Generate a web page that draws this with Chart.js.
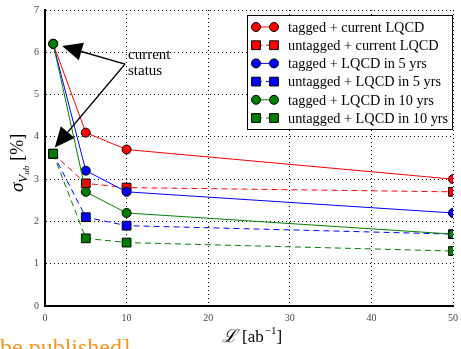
<!DOCTYPE html>
<html>
<head>
<meta charset="utf-8">
<script src="https://cdn.jsdelivr.net/npm/chart.js@4/dist/chart.umd.min.js"></script>
<style>
    html, body { margin: 0; padding: 0; background: #fff; }
    #wrap { width: 461px; height: 349px; }
</style>
</head>
<body>
<div id="wrap"><canvas id="chart" width="461" height="349"></canvas></div>
<script>
// luminosity in ab^-1
const lumi = [1, 5, 10, 50];

// sigma(V_ub) in %
const taggedCurrent = [6.2, 4.1, 3.7, 3.0];
const untaggedCurrent = [3.6, 2.9, 2.8, 2.7];
const tagged5 = [6.2, 3.2, 2.7, 2.2];
const untagged5 = [3.6, 2.1, 1.9, 1.7];
const tagged10 = [6.2, 2.7, 2.2, 1.7];
const untagged10 = [3.6, 1.6, 1.5, 1.3];

const seriesLabels = [
    "tagged + current LQCD",
    "untagged + current LQCD",
    "tagged + LQCD in 5 yrs",
    "untagged + LQCD in 5 yrs",
    "tagged + LQCD in 10 yrs",
    "untagged + LQCD in 10 yrs"
];

const xTicks = [0, 10, 20, 30, 40, 50];
const yTicks = [0, 1, 2, 3, 4, 5, 6, 7];

const SERIF = "'DejaVu Serif', 'Liberation Serif', serif";
const TIMES = "'Liberation Serif', 'DejaVu Serif', serif";

function series(label, values, color, tagged, order) {
    return {
        label: label,
        data: lumi.map((x, i) => ({ x: x, y: values[i] })),
        borderColor: color,
        backgroundColor: color,
        borderWidth: 1,
        borderDash: tagged ? [] : [6, 4],
        pointStyle: tagged ? "circle" : "rect",
        pointRadius: tagged ? 4.5 : 6.2,
        pointBorderColor: "#000",
        pointBorderWidth: 1,
        pointBackgroundColor: color,
        tension: 0,
        order: order
    };
}

const datasets = [
    series(seriesLabels[0], taggedCurrent, "#ff0000", true, 6),
    series(seriesLabels[1], untaggedCurrent, "#ff0000", false, 5),
    series(seriesLabels[2], tagged5, "#0000ff", true, 4),
    series(seriesLabels[3], untagged5, "#0000ff", false, 3),
    series(seriesLabels[4], tagged10, "#007f00", true, 2),
    series(seriesLabels[5], untagged10, "#007f00", false, 1)
];

// legend, arrows and axis titles
const decorations = {
    id: "decorations",
    afterDraw(chart) {
        const ctx = chart.ctx;
        const xs = chart.scales.x;
        const ys = chart.scales.y;

        // arrows pointing at the current status points
        const tail = { x: xs.getPixelForValue(9.8), y: ys.getPixelForValue(5.72) };
        const tips = [
            { x: xs.getPixelForValue(2.1), y: ys.getPixelForValue(6.15) },
            { x: xs.getPixelForValue(1.2), y: ys.getPixelForValue(3.75) }
        ];
        ctx.save();
        tips.forEach(tip => {
            const ang = Math.atan2(tip.y - tail.y, tip.x - tail.x);
            const headLen = 20;
            const headW = 9;
            const bx = tip.x - headLen * Math.cos(ang);
            const by = tip.y - headLen * Math.sin(ang);
            ctx.strokeStyle = "#000";
            ctx.lineWidth = 1.5;
            ctx.beginPath();
            ctx.moveTo(tail.x, tail.y);
            ctx.lineTo(bx, by);
            ctx.stroke();
            ctx.fillStyle = "#000";
            ctx.beginPath();
            ctx.moveTo(tip.x, tip.y);
            ctx.lineTo(bx + headW * Math.sin(ang), by - headW * Math.cos(ang));
            ctx.lineTo(bx - headW * Math.sin(ang), by + headW * Math.cos(ang));
            ctx.closePath();
            ctx.fill();
        });

        ctx.fillStyle = "#000";
        ctx.font = "15px " + TIMES;
        ctx.textAlign = "left";
        ctx.textBaseline = "alphabetic";
        ctx.fillText("current", 128, 59);
        ctx.fillText("status", 128, 75);

        // legend
        const lx = 247, ly = 15, lw = 205, lh = 114;
        ctx.fillStyle = "#fff";
        ctx.fillRect(lx, ly, lw, lh);
        ctx.strokeStyle = "#000";
        ctx.lineWidth = 1;
        ctx.strokeRect(lx + 0.5, ly + 0.5, lw, lh);
        ctx.font = "14.3px " + TIMES;
        datasets.forEach((ds, i) => {
            const cy = 27 + i * 18.2;
            ctx.save();
            ctx.strokeStyle = ds.borderColor;
            ctx.lineWidth = 1;
            ctx.setLineDash(ds.borderDash);
            ctx.beginPath();
            ctx.moveTo(256, cy);
            ctx.lineTo(274, cy);
            ctx.stroke();
            ctx.restore();
            [256, 274].forEach(px => {
                ctx.fillStyle = ds.borderColor;
                ctx.strokeStyle = "#000";
                ctx.lineWidth = 1;
                ctx.beginPath();
                if (ds.pointStyle === "circle") {
                    ctx.arc(px, cy, ds.pointRadius, 0, Math.PI * 2);
                } else {
                    const s = ds.pointRadius * Math.SQRT1_2;
                    ctx.rect(px - s, cy - s, 2 * s, 2 * s);
                }
                ctx.fill();
                ctx.stroke();
            });
            ctx.fillStyle = "#000";
            ctx.textBaseline = "middle";
            ctx.fillText(ds.label, 288, cy + 1);
        });

        // x axis title: L [ab^-1]
        ctx.textBaseline = "alphabetic";
        ctx.fillStyle = "#000";
        let x = 222;
        const by = 342;
        ctx.font = "italic 18px " + SERIF;
        ctx.fillText("\u2112", x, by);
        x += ctx.measureText("\u2112").width + 5;
        ctx.font = "17px " + TIMES;
        ctx.fillText("[ab", x, by);
        x += ctx.measureText("[ab").width;
        ctx.font = "11px " + TIMES;
        ctx.fillText("\u22121", x + 1, by - 8);
        x += ctx.measureText("\u22121").width + 1;
        ctx.font = "17px " + TIMES;
        ctx.fillText("]", x, by);

        // y axis title: sigma_{V_ub} [%]
        ctx.save();
        ctx.translate(23, 192);
        ctx.rotate(-Math.PI / 2);
        let yx = 0;
        ctx.font = "italic 19px " + TIMES;
        ctx.fillText("\u03c3", yx, 0);
        yx += ctx.measureText("\u03c3").width;
        ctx.font = "italic 13px " + TIMES;
        ctx.fillText("V", yx, 4);
        yx += ctx.measureText("V").width;
        ctx.font = "italic 9px " + TIMES;
        ctx.fillText("ub", yx, 6);
        yx += ctx.measureText("ub").width + 5;
        ctx.font = "18px " + TIMES;
        ctx.fillText("[%]", yx, 0);
        ctx.restore();

        // clipped caption at the bottom edge
        ctx.fillStyle = "#f7931e";
        ctx.font = "24px " + TIMES;
        ctx.fillText("be published]", 0, 355);

        ctx.restore();
    }
};

new Chart(document.getElementById("chart").getContext("2d"), {
    type: "line",
    data: { datasets: datasets },
    options: {
        responsive: false,
        animation: false,
        layout: { padding: { top: 10, right: 8, left: 0, bottom: 0 } },
        plugins: {
            legend: { display: false },
            tooltip: { enabled: false }
        },
        scales: {
            x: {
                type: "linear",
                min: 0,
                max: 50,
                afterBuildTicks: scale => {
                    scale.ticks = xTicks.map(v => ({ value: v }));
                },
                afterFit: scale => {
                    scale.height = 43;
                    scale.paddingLeft = 0;
                    scale.paddingRight = 0;
                },
                grid: { color: "#000", lineWidth: 1, drawTicks: false },
                border: { display: true, color: "#000", width: 2, dash: [1, 3] },
                ticks: {
                    padding: 6,
                    color: "#444",
                    font: { family: TIMES, size: 10 },
                    maxRotation: 0
                }
            },
            y: {
                min: 0,
                max: 7,
                afterBuildTicks: scale => {
                    scale.ticks = yTicks.map(v => ({ value: v }));
                },
                afterFit: scale => {
                    scale.width = 45;
                    scale.paddingTop = 0;
                    scale.paddingBottom = 0;
                },
                grid: { color: "#000", lineWidth: 1, drawTicks: false },
                border: { display: true, color: "#000", width: 2, dash: [1, 3] },
                ticks: {
                    padding: 6,
                    color: "#444",
                    font: { family: TIMES, size: 10 }
                }
            }
        }
    },
    plugins: [decorations]
});
</script>
</body>
</html>
